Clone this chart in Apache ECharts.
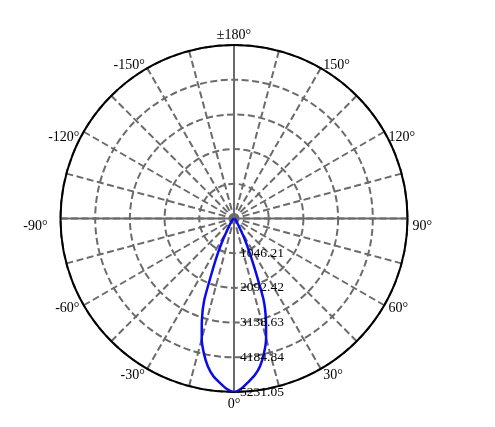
<!DOCTYPE html>
<html>
<head>
<meta charset="utf-8">
<script src="https://cdn.jsdelivr.net/npm/echarts@6/dist/echarts.min.js"></script>
<style>
  html, body { margin: 0; padding: 0; background: #fff; }
  #chart { width: 495px; height: 427px; }
</style>
</head>
<body>
<div id="chart"></div>
<script>
// --- data ---
const RADIUS_MAX = 5231.05;
const RADIUS_STEP = 1046.21;
const ANGLE_STEP = 15;

// angle (deg, 0 = straight down) and luminous intensity
const angles = [
  -180, -150, -120, -90, -60, -50, -45, -40, -35, -30, -27.5, -25, -22.5, -20,
  -17.5, -15, -12.5, -10, -7.5, -5, -2.5, 0, 2.5, 5, 7.5, 10, 12.5, 15, 17.5,
  20, 22.5, 25, 27.5, 30, 35, 40, 45, 50, 60, 90, 120, 150, 180
];
const intensity = [
  0, 3, 5, 10, 30, 55, 80, 120, 210, 420, 720, 1150, 1700, 2630,
  3220, 3760, 4180, 4530, 4790, 4970, 5140, 5231.05, 5130, 4950, 4770, 4520, 4170, 3740, 3200,
  2600, 1620, 1050, 680, 400, 200, 110, 80, 55, 30, 10, 5, 3, 0
];

const FONT = "Liberation Serif";

// nudge angle labels a bit so they sit like the original plot
const labelRich = {
  t180: { padding: [0, 0, -2, 0] },
  t150: { padding: [0, 0, -8, 0] },
  t120: { padding: [0, 0, -16, 0] },
  p90: { padding: [16, 0, 0, 0] },
  m90: { padding: [16, 8, 0, 0] },
  b60: { padding: [-6, 0, 0, 0] },
  b30: { padding: [-5, 0, 0, 0] },
  b0: { padding: [0, 0, 0, 0] },
};

function angleLabel(v) {
  if (v % 30 !== 0 || v === 180) return "";
  const a = Math.abs(v);
  const txt = v === -180 ? "±180°" : v + "°";
  let key = "b0";
  if (a === 180) key = "t180";
  else if (a === 150) key = "t150";
  else if (a === 120) key = "t120";
  else if (a === 90) key = v > 0 ? "p90" : "m90";
  else if (a === 60) key = "b60";
  else if (a === 30) key = "b30";
  return "{" + key + "|" + txt + "}";
}

function radiusLabel(v) {
  if (v <= 0) return "";
  return v.toFixed(2);
}

const chart = echarts.init(document.getElementById("chart"));

chart.setOption({
  animation: false,
  polar: [
    { center: [234, 218.5], radius: 173.5 },
    { center: [234, 218.5], radius: 173.5 },
  ],
  angleAxis: [
    {
      polarIndex: 0,
      type: "value",
      min: -180,
      max: 180,
      interval: ANGLE_STEP,
      startAngle: 90,
      clockwise: false,
      axisLine: { show: false },
      axisTick: { show: false },
      axisLabel: {
        formatter: angleLabel,
        fontFamily: FONT,
        fontSize: 14,
        color: "#000",
        margin: 5,
        rich: labelRich,
      },
      splitLine: {
        show: true,
        lineStyle: { color: "#6b6b6b", width: 2, type: [7, 3.5] },
      },
    },
    {
      polarIndex: 1,
      type: "value",
      min: 0,
      max: 360,
      interval: 90,
      startAngle: 270,
      clockwise: false,
      axisLine: { show: true, lineStyle: { color: "#000", width: 2 } },
      axisTick: { show: false },
      axisLabel: { show: false },
      splitLine: {
        show: true,
        lineStyle: { color: "#6b6b6b", width: 2, type: "solid" },
      },
    },
  ],
  radiusAxis: [
    {
      polarIndex: 0,
      type: "value",
      min: 0,
      max: RADIUS_MAX,
      interval: RADIUS_STEP,
      axisLine: { show: false },
      axisTick: { show: false },
      axisLabel: { show: false },
      splitLine: {
        show: true,
        lineStyle: { color: "#6b6b6b", width: 2, type: [7, 3.5] },
      },
    },
    {
      polarIndex: 1,
      type: "value",
      min: 0,
      max: RADIUS_MAX,
      interval: RADIUS_STEP,
      z: 5,
      axisLine: { show: false },
      axisTick: { show: false },
      splitLine: { show: false },
      axisLabel: {
        formatter: radiusLabel,
        fontFamily: FONT,
        fontSize: 13.5,
        color: "#000",
        margin: 6,
      },
    },
  ],
  series: [
    {
      type: "line",
      polarIndex: 0,
      coordinateSystem: "polar",
      symbol: "none",
      smooth: 0.2,
      z: 3,
      lineStyle: { color: "#0a0af0", width: 2.5 },
      data: angles.map((a, i) => [intensity[i], a]),
    },
  ],
});
</script>
</body>
</html>
